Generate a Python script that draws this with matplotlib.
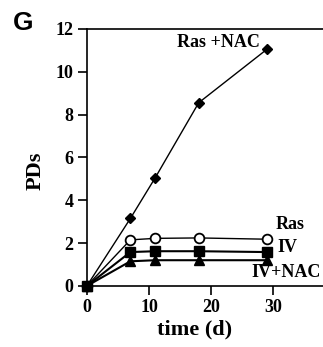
import matplotlib
matplotlib.use('Agg')
import matplotlib.pyplot as plt

days = [0, 7, 11, 18, 29]
ras_nac = [0, 3.15, 5.05, 8.55, 11.05]
ras = [0, 2.15, 2.22, 2.24, 2.18]
iv = [0, 1.58, 1.62, 1.62, 1.58]
iv_nac = [0, 1.15, 1.2, 1.2, 1.2]

plt.rcParams['font.family'] = 'Liberation Serif'
plt.rcParams['font.weight'] = 'bold'

fig = plt.figure(figsize=(3.23, 3.47), dpi=100)
ax = fig.add_axes([0.269, 0.176, 0.731, 0.741])

# Series, drawn in order back to front
ax.plot(days, ras_nac, '-', color='black', lw=1, marker='D', ms=5.5,
        mfc='black', mec='black', clip_on=False, zorder=3)
ax.plot(days, ras, '-', color='black', lw=1, marker='o', ms=7,
        mfc='white', mec='black', mew=1.3, clip_on=False, zorder=3)
ax.plot(days, iv, '-', color='black', lw=1.5, marker='s', ms=6.5,
        mfc='black', mec='black', clip_on=False, zorder=3)
ax.plot(days, iv_nac, '-', color='black', lw=1.5, marker='^', ms=6.5,
        mfc='black', mec='black', clip_on=False, zorder=3)

# Labels next to the lines
ax.text(27.9, 11.35, 'Ras +NAC', ha='right', va='center', fontsize=13, fontweight='bold')
ax.text(30.4, 2.85, 'Ras', ha='left', va='center', fontsize=13, fontweight='bold')
ax.text(30.6, 1.78, 'IV', ha='left', va='center', fontsize=13, fontweight='bold')
ax.text(26.5, 0.62, 'IV+NAC', ha='left', va='center', fontsize=13, fontweight='bold')

ax.set_xlim(0, 38)
ax.set_ylim(0, 12)
ax.set_xticks([0, 10, 20, 30])
ax.set_yticks([0, 2, 4, 6, 8, 10, 12])
ax.spines['right'].set_visible(False)
for s in ['left', 'bottom', 'top']:
    ax.spines[s].set_linewidth(1.2)
ax.tick_params(axis='both', direction='out', length=6.5, width=1.2, labelsize=13, pad=3)
ax.set_xlabel('time (d)', fontsize=16, fontweight='bold')
ax.set_ylabel('PDs', fontsize=16, fontweight='bold')
ax.xaxis.set_label_coords(0.455, -0.13)
ax.yaxis.set_label_coords(-0.175, 0.447)

fig.text(0.04, 0.935, 'G', fontsize=19, fontweight='bold', family='Liberation Sans',
         ha='left', va='center')

fig.savefig('out.png', dpi=100)
